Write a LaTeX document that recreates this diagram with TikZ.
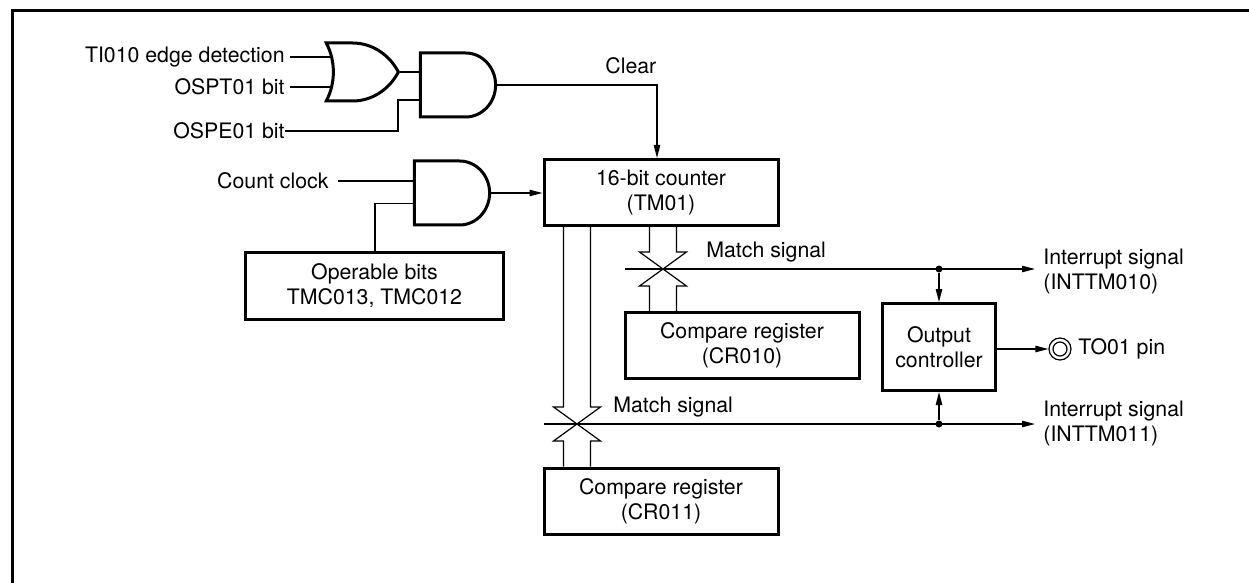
\documentclass[tikz,border=0pt]{standalone}
\usepackage{fontspec}
\setmainfont{TeX Gyre Heros}
\usepackage{tikz}
\usetikzlibrary{shapes.gates.logic.US, arrows.meta, positioning, calc}

\begin{document}
\begin{tikzpicture}[
    x=0.5pt, y=-0.5pt,
    every node/.style={font=\fontsize{10.65}{12.5}\selectfont},
    regbox/.style={rectangle, draw, line width=1.5pt, minimum width=117pt, minimum height=33pt, inner sep=0pt, align=center},
    ctrlbox/.style={regbox, minimum width=56.5pt, minimum height=43.5pt},
    andg/.style={and gate US, draw, line width=1.5pt, logic gate inputs=nn, minimum height=32pt, inner sep=0pt, xscale=0.94, transform shape},
    org/.style={or gate US, draw, line width=1.5pt, logic gate inputs=nn, minimum height=29pt, inner sep=0pt, xscale=0.91, transform shape},
    wire/.style={line width=0.6pt},
    arrowstyle/.style={wire, -{Stealth[length=6.5pt, width=3.2pt, inset=0pt]}},
    sigtext/.style={inner sep=0pt, align=left},
    dotn/.style={circle, fill, inner sep=0pt, minimum size=3.5pt}
]
\useasboundingbox (0,0) rectangle (1249,583);

% Frame
\draw[line width=1.5pt] (12.3,583) -- (12.3,11) -- (1249,11);

% Gates
\node[org, anchor=west] (OR1) at (332,72) {};
\node[andg, anchor=west] (AND1) at (419,85) {};
\node[andg, anchor=west] (AND2) at (413,193) {};

% Boxes
\node[regbox] (CNT) at (661,192.5) {16-bit counter\\(TM01)};
\node[regbox, minimum width=129pt] (OPB) at (374.5,286) {Operable bits\\TMC013, TMC012};
\node[regbox] (CMP0) at (742,345.5) {Compare register\\(CR010)};
\node[regbox] (CMP1) at (661,501) {Compare register\\(CR011)};
\node[ctrlbox] (OUT) at (939,347) {Output\\controller};

% Input labels
\node[sigtext, anchor=east] (TI) at (285,57) {TI010 edge detection};
\node[sigtext, anchor=east] (OSPT) at (285,87) {OSPT01 bit};
\node[sigtext, anchor=east] (OSPE) at (285,131) {OSPE01 bit};
\node[sigtext, anchor=east] (CLK) at (329,181) {Count clock};
\node[sigtext, anchor=west] (CLR) at (605,66) {Clear};

% Gate inputs
\draw[wire] (TI.east) ++(5,0) -- (OR1.input 1 |- TI.east);
\draw[wire] (OSPT.east) ++(5,0) -- (OR1.input 2 |- OSPT.east);
\draw[wire] (OSPE.east) -| (398,100) -- (AND1.west |- 398,100);
\draw[wire] (OR1.output) -- (AND1.west |- OR1.output);
\draw[wire] (CLK.east) ++(9,0) -- (AND2.west |- CLK.east);
\draw[wire] (OPB.north -| 375,0) |- (AND2.input 2);

% Gate outputs
\draw[arrowstyle] (AND1.output) -| (CNT.north -| 657,0);
\draw[arrowstyle] (AND2.output) -- (CNT.west |- AND2.output);

% Signal lines
\coordinate (X0) at (663,269);
\coordinate (X1) at (577,424);
\coordinate (S0) at (625,269);
\coordinate (S1) at (544,424);
\coordinate (E0) at (1035,269);
\coordinate (E1) at (1035,424);
\node[dotn] (D0) at (939,269) {};
\node[dotn] (D1) at (939,424) {};
\draw[arrowstyle] (S0) -- (E0);
\draw[arrowstyle] (S1) -- (E1);
\draw[arrowstyle] (D0) -- (OUT.north);
\draw[arrowstyle] (D1) -- (OUT.south);

% Buses crossing the signal lines
\foreach \xc/\upn/\lown in {X0/CNT/CMP0, X1/CNT/CMP1}{
  \coordinate (BL) at ($(\xc)+(-13.5,0)$);
  \coordinate (BR) at ($(\xc)+(13.5,0)$);
  \draw[wire] (BL |- \upn.south) -- ($(\xc)+(-13.5,-17)$) -- ++(-10,0) -- ($(\xc)+(23.5,17)$) -- ++(-10,0) -- (BR |- \lown.north);
  \draw[wire] (BR |- \upn.south) -- ($(\xc)+(13.5,-17)$) -- ++(10,0) -- ($(\xc)+(-23.5,17)$) -- ++(10,0) -- (BL |- \lown.north);
}

% Pin
\node[circle, draw, wire, inner sep=0pt, minimum size=11pt] (PIN) at (1060,349) {};
\node[circle, draw, wire, inner sep=0pt, minimum size=7pt] (PINC) at (PIN) {};
\draw[arrowstyle] (OUT.east |- PIN) -- (PIN.west);
\node[sigtext, anchor=west] (TO) at (1078,349) {TO01 pin};

% Signal labels
\node[sigtext, anchor=west] (M0) at (706,252) {Match signal};
\node[sigtext, anchor=west] (M1) at (613,407) {Match signal};
\node[sigtext, anchor=west] (INT0) at (1043,271) {Interrupt signal\\(INTTM010)};
\node[sigtext, anchor=west] (INT1) at (1043,423) {Interrupt signal\\(INTTM011)};

\end{tikzpicture}
\end{document}
